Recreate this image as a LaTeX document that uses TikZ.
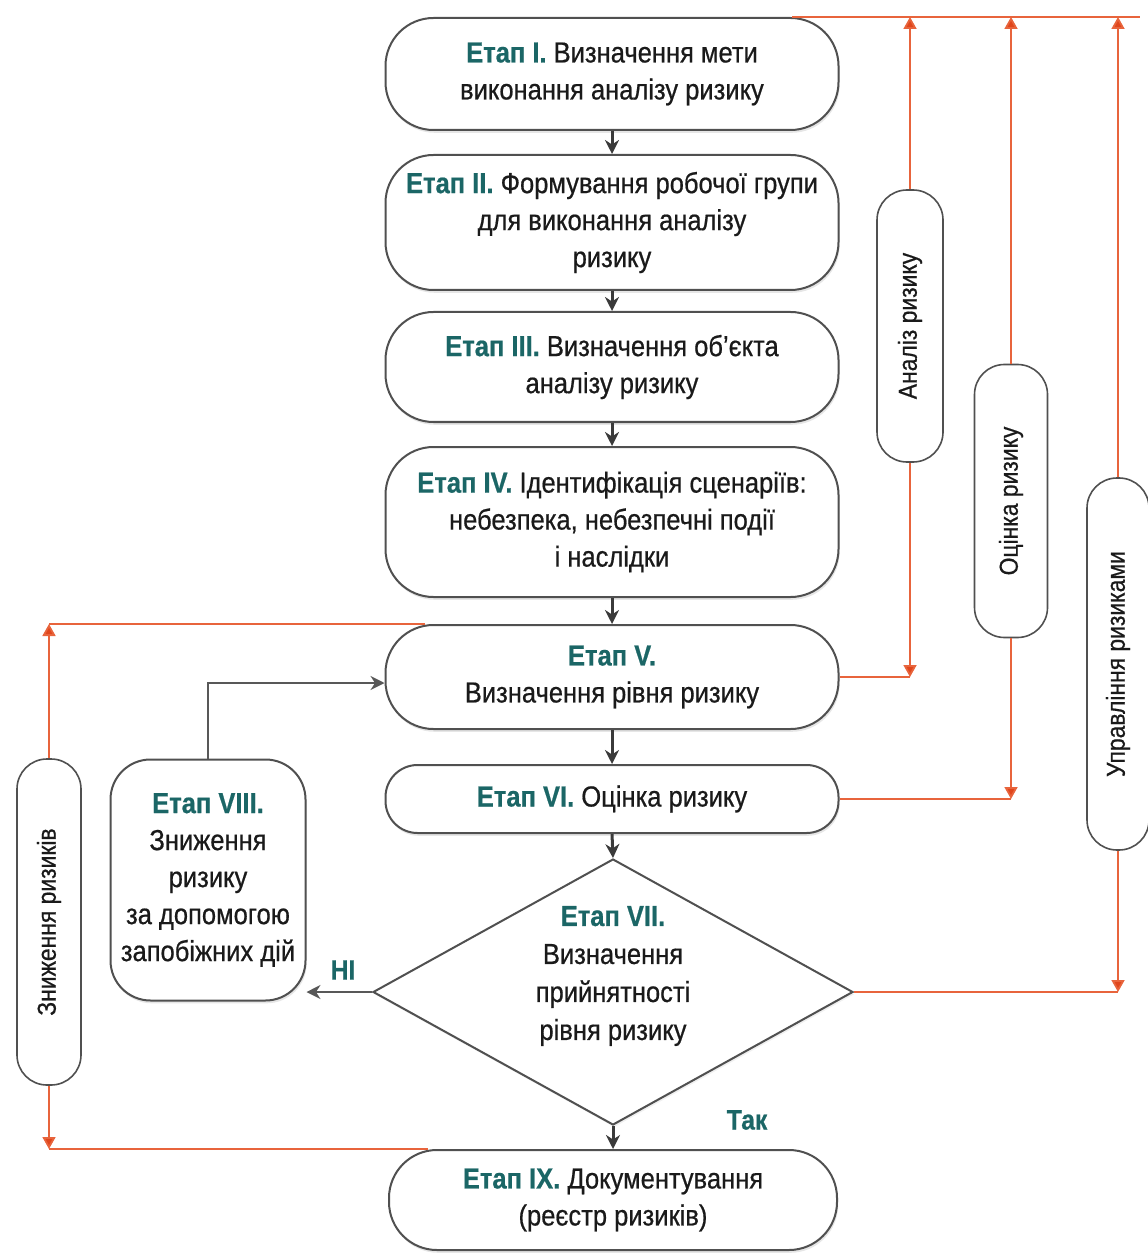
\documentclass[tikz,border=0pt]{standalone}
\usepackage{fontspec}
\setmainfont{Liberation Sans}[FakeStretch=0.88, FakeBold=0.6]
\usetikzlibrary{arrows.meta,shapes.geometric,calc,shadows}
\definecolor{tealc}{HTML}{1B6666}
\definecolor{redl}{HTML}{E8643C}
\definecolor{redh}{HTML}{E0461C}
\definecolor{edgec}{HTML}{505050}
\definecolor{arrc}{HTML}{3A3A3A}
\definecolor{txtc}{HTML}{1A1A1A}
\newfontfamily\bodyf{Liberation Sans}[FakeStretch=0.88, FakeBold=0.6]
\newcommand{\etp}[1]{\textbf{\color{tealc}#1}}
\begin{document}
\begin{tikzpicture}[x=0.5pt,y=-0.5pt,
  box/.style={draw=edgec, line width=1pt, fill=white, align=center, inner sep=0pt,
    text=txtc, font=\bodyf\fontsize{14.5}{18.5}\selectfont,
    drop shadow={opacity=0.2, shadow xshift=0.6pt, shadow yshift=-1.4pt}},
  mainbox/.style={box, rounded corners=24pt, minimum width=226.5pt},
  lbl/.style={draw=edgec, line width=0.8pt, fill=white, inner sep=0pt, text=txtc,
    font=\bodyf\fontsize{13}{16}\selectfont, rounded corners=15pt},
  redline/.style={draw=redl, line width=0.9pt},
  redarr/.style={draw=redl, line width=0.9pt, -{Triangle[length=6pt,width=6.5pt,fill=redh]}},
  darr/.style={draw=arrc, line width=1.5pt, -{Stealth[length=7pt,width=7pt]}},
  tarr/.style={draw=arrc!85, line width=0.9pt, -{Stealth[length=7pt,width=7pt]}},
  yn/.style={font=\fontsize{14}{16}\selectfont\bfseries, text=tealc, inner sep=0pt}]
\useasboundingbox (0,0) rectangle (1147,1256);

% main column
\node[mainbox, minimum height=56pt] (I) at (612,74)
  {\etp{Етап I.} Визначення мети\\ виконання аналізу ризику};
\node[mainbox, minimum height=67.5pt] (II) at (612,222.5)
  {\etp{Етап II.} Формування робочої групи\\ для виконання аналізу\\ ризику};
\node[mainbox, minimum height=55pt] (III) at (612,367)
  {\etp{Етап III.} Визначення об’єкта\\ аналізу ризику};
\node[mainbox, minimum height=75pt] (IV) at (612,522)
  {\etp{Етап IV.} Ідентифікація сценаріїв:\\ небезпека, небезпечні події\\ і наслідки};
\node[mainbox, minimum height=52pt] (V) at (612,677)
  {\etp{Етап V.}\\ Визначення рівня ризику};
\node[box, rounded corners=16pt, minimum width=226.5pt, minimum height=34pt] (VI) at (612,799)
  {\etp{Етап VI.} Оцінка ризику};
\node[diamond, draw=edgec, line width=1pt, fill=white, inner sep=0pt, aspect=1.8,
  minimum width=240pt, minimum height=133pt,
  drop shadow={opacity=0.12, shadow xshift=0.6pt, shadow yshift=-1.2pt}] (VII) at (613,992) {};
\node[align=center, text=txtc, font=\bodyf\fontsize{14.5}{19}\selectfont] (VIIt) at (613,976)
  {\etp{Етап VII.}\\ Визначення\\ прийнятності\\ рівня ризику};
\node[mainbox, minimum width=224pt, minimum height=50pt] (IX) at (613,1200)
  {\etp{Етап IX.} Документування\\ (реєстр ризиків)};
\node[box, rounded corners=20pt, minimum width=97.5pt, minimum height=120.5pt] (VIII) at (208,880)
  {\etp{Етап VIII.}\\ Зниження\\ ризику\\ за допомогою\\ запобіжних дій};

% side labels
\node[lbl, minimum width=33pt, minimum height=136pt] (A) at (910,326) {\rotatebox{90}{Аналіз ризику}};
\node[lbl, minimum width=36.5pt, minimum height=136.5pt] (O) at (1011,501) {\rotatebox{90}{Оцінка ризику}};
\node[lbl, minimum width=31pt, minimum height=186pt] (U) at (1118,664) {\rotatebox{90}{Управління ризиками}};
\node[lbl, minimum width=32pt, minimum height=163pt] (Z) at (49,922) {\rotatebox{90}{Зниження ризиків}};

% dark connectors
\draw[darr] (I.south) -- (II.north);
\draw[darr] (II.south) -- (III.north);
\draw[darr] (III.south) -- (IV.north);
\draw[darr] (IV.south) -- (V.north);
\draw[darr] (V.south) -- (VI.south |- VI.north);
\draw[darr] (VI.south) -- (VII.north);
\draw[darr] (VII.south) -- (IX.north);
\draw[tarr] (VII.west) -- (VII.west -| VIII.east);
\draw[tarr] (VIII.north) |- ([yshift=-3pt]V.west);
\node[yn] (ni) at (343,970) {НІ};
\node[yn] (tak) at (747,1120) {Так};

% red brackets
\coordinate (Xr) at (1140,0);
\coordinate (TL) at ($(I.north east)+(-24pt,0)$);
\coordinate (TR) at (I.north -| Xr);
\draw[redline] (TL) -- (TR);
\draw[redarr] (A.north) -- (A.north |- TR);
\draw[redarr] (O.north) -- (O.north |- TR);
\draw[redarr] (U.north) -- (U.north |- TR);
\draw[redline] (V.east) -- (V.east -| A.south);
\draw[redarr] (A.south) -- (A.south |- V.east);
\draw[redline] (VI.east) -- (VI.east -| O.south);
\draw[redarr] (O.south) -- (O.south |- VI.east);
\draw[redline] (VII.east) -- (VII.east -| U.south);
\draw[redarr] (U.south) -- (U.south |- VII.east);
\coordinate (VTL) at ($(V.north west)+(20pt,0)$);
\coordinate (IXTL) at ($(IX.north west)+(20pt,0)$);
\draw[redline] (VTL) -- (Z.north |- VTL);
\draw[redarr] (Z.north) -- (Z.north |- VTL);
\draw[redline] (IXTL) -- (Z.south |- IXTL);
\draw[redarr] (Z.south) -- (Z.south |- IXTL);
\end{tikzpicture}
\end{document}
